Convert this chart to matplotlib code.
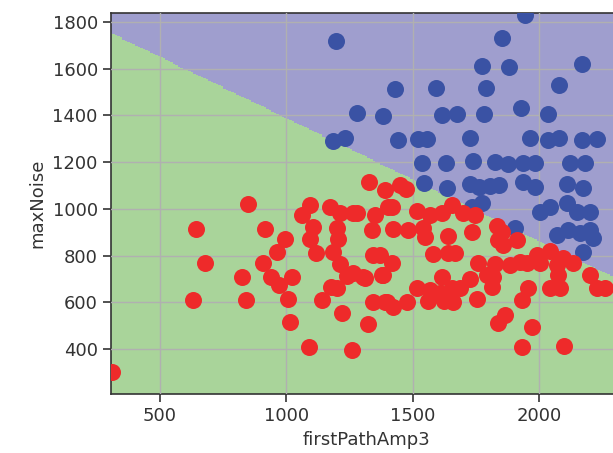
import numpy as np
import matplotlib
matplotlib.use("Agg")
import matplotlib.pyplot as plt
from matplotlib.colors import ListedColormap

# ---- data (firstPathAmp3, maxNoise) ----
red_x = [848, 642, 916, 995, 1094, 1173, 1062, 1106, 1201, 1094, 1205, 963, 1117, 1185,
         678, 908, 1212, 825, 939, 1022, 971, 1240, 1177, 1201, 631, 840, 1007, 1141,
         1220, 1015, 1090, 1260, 310, 1264, 1327, 1391, 1212, 1351, 1402, 1339, 1343,
         1303, 1379, 1343, 1391, 1323, 1450, 1474, 1418, 1280, 1517, 1569, 1616, 1656,
         1699, 1747, 1422, 1482, 1541, 1549, 1640, 1735, 1834, 1854, 1838, 1858, 1913,
         1581, 1640, 1668, 1371, 1418, 1759, 1826, 1885, 1925, 1992, 2044, 2095, 2135,
         2004, 2071, 1264, 1311, 1383, 1616, 1727, 1794, 1814, 1517, 1569, 1608, 1656,
         1687, 1755, 1957, 1933, 2075, 2044, 2083, 2202, 2230, 2261, 1398, 1422, 1478,
         1561, 1624, 1660, 1866, 1838, 1972, 1933, 2099, 1953, 1818]
red_y = [1021, 914, 914, 871, 1017, 1008, 974, 922, 918, 871, 871, 815, 811, 815,
         768, 768, 764, 708, 708, 708, 674, 713, 666, 661, 610, 610, 614, 610,
         554, 516, 409, 396, 302, 982, 1115, 1081, 982, 974, 1008, 910, 803,
         708, 717, 601, 601, 507, 1102, 1085, 1008, 982, 991, 974, 982, 1017,
         982, 974, 914, 910, 918, 880, 884, 901, 927, 901, 867, 845, 867,
         807, 811, 811, 803, 768, 768, 764, 760, 773, 803, 820, 790, 768,
         768, 760, 725, 704, 717, 708, 700, 717, 666, 661, 653, 640, 661,
         661, 614, 661, 610, 717, 661, 661, 717, 661, 661, 601, 580, 601,
         606, 606, 601, 546, 511, 494, 409, 413, 768, 708]

blue_x = [1197, 1280, 1185, 1232, 1383, 1430, 1592, 1790, 2079, 1945, 1854, 1774, 1881,
          2170, 1616, 1676, 1782, 1929, 2036, 1442, 1521, 1557, 1727, 1964, 2036, 2079,
          2170, 2230, 1537, 1632, 1739, 1826, 1877, 1937, 1984, 2123, 2182, 1545, 1636,
          1727, 1763, 1806, 1842, 1937, 1984, 2111, 2174, 2004, 2044, 2111, 2150, 2202,
          1905, 2071, 2115, 2162, 2202, 2214, 2174, 1735, 1774]
blue_y = [1719, 1410, 1291, 1303, 1398, 1513, 1517, 1517, 1530, 1830, 1732, 1612, 1607,
          1620, 1402, 1406, 1406, 1432, 1406, 1295, 1299, 1299, 1303, 1303, 1295, 1303,
          1295, 1299, 1196, 1196, 1205, 1201, 1192, 1196, 1196, 1196, 1196, 1111, 1089,
          1106, 1094, 1098, 1102, 1115, 1094, 1106, 1089, 987, 1008, 1025, 987, 987,
          918, 888, 910, 897, 910, 875, 815, 1008, 1025]

# fitted linear classifier: class "blue" where maxNoise + slope*firstPathAmp3 > offset
boundary_slope = 0.5254
boundary_offset = 1914.0

x_min, x_max = 306, 2330
y_min, y_max = 207, 1839
step_x, step_y = 10, 5

fig = plt.figure(figsize=(6.13, 4.53), dpi=100)
W, H = 613, 453
ax = fig.add_axes([111 / W, (H - 394) / H, (622.4 - 111) / W, (394 - 13) / H])

xx, yy = np.meshgrid(np.arange(x_min, x_max + step_x, step_x),
                     np.arange(y_min, y_max + step_y, step_y))
zz = (yy + boundary_slope * xx > boundary_offset).astype(int)
cmap_light = ListedColormap(["#A9D49A", "#9F9ECE"])
ax.pcolormesh(xx, yy, zz, cmap=cmap_light, shading="auto", zorder=0)

ax.scatter(blue_x, blue_y, s=150, c="#3A52A4", linewidths=0, zorder=3)
ax.scatter(red_x, red_y, s=150, c="#EE2A2A", linewidths=0, zorder=4)

ax.set_xlim(x_min, x_max)
ax.set_ylim(y_min, y_max)
ax.set_xticks([500, 1000, 1500, 2000])
ax.set_yticks([400, 600, 800, 1000, 1200, 1400, 1600, 1800])
ax.grid(True, color="#b0b0b0", linewidth=1.0, zorder=1)
ax.set_axisbelow(False)
ax.tick_params(labelsize=13, colors="#333333", length=6, width=1.2)
for sp in ax.spines.values():
    sp.set_color("#333333")
    sp.set_linewidth(1.2)
ax.set_xlabel("firstPathAmp3", fontsize=13, color="#333333")
ax.set_ylabel("maxNoise", fontsize=13, color="#333333")

fig.savefig("out.png", dpi=100)
